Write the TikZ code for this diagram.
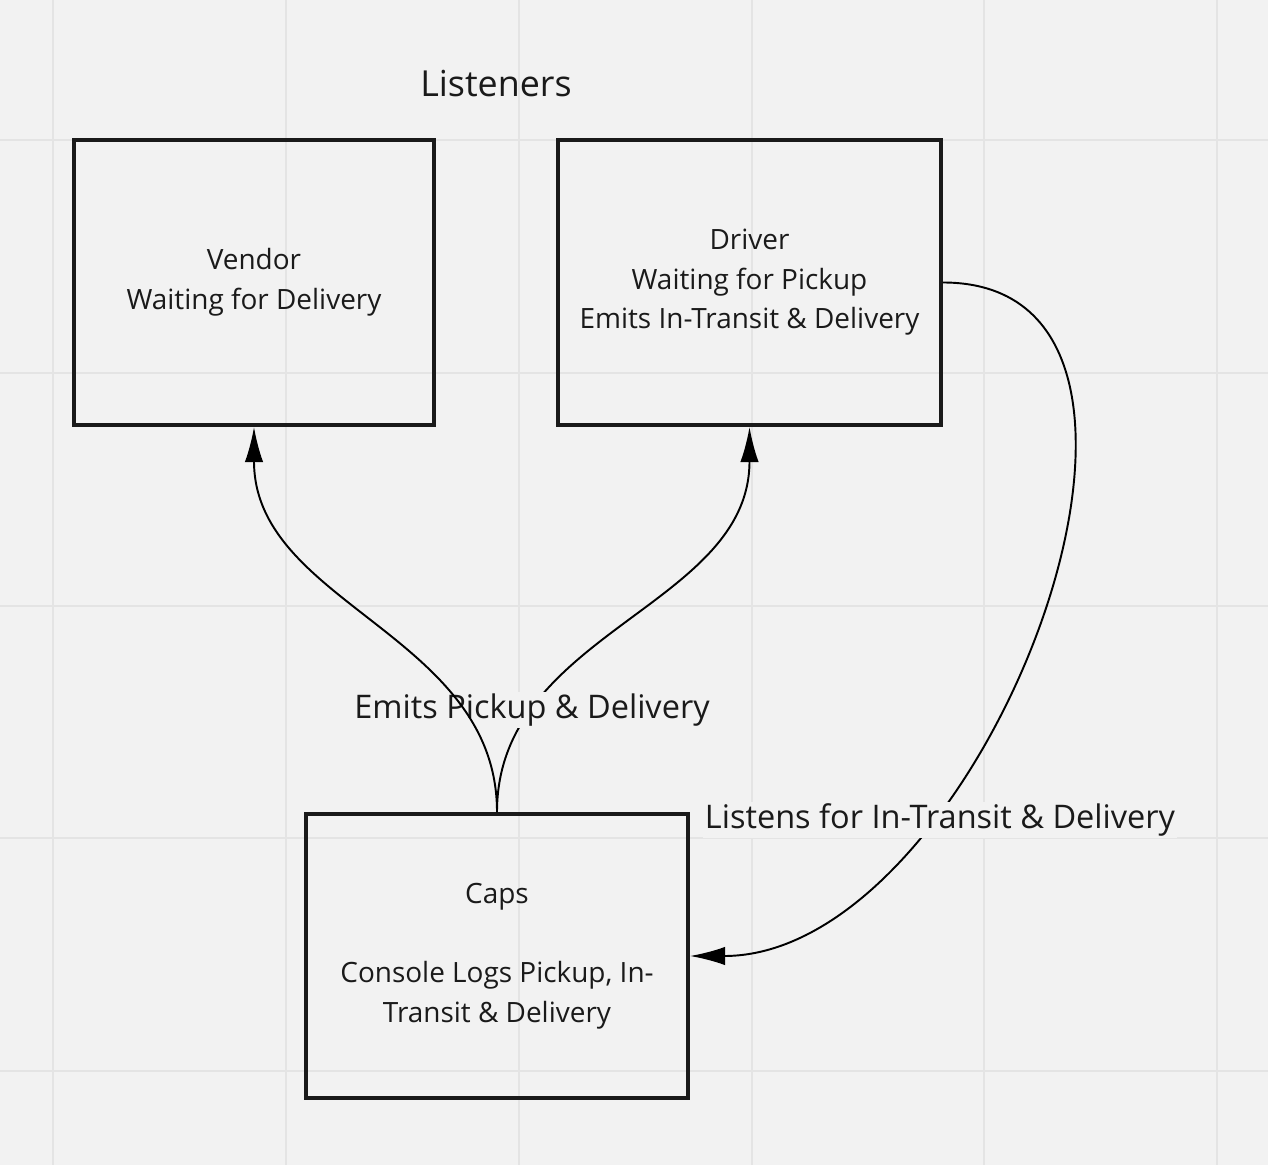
\documentclass[tikz,border=0pt]{standalone}
\usepackage{fontspec}
\setmainfont{Open Sans}
\usetikzlibrary{arrows.meta}
\definecolor{bg}{HTML}{F2F2F2}
\definecolor{gridgray}{HTML}{E4E4E4}
\definecolor{ink}{HTML}{1A1A1A}
\begin{document}
\begin{tikzpicture}[x=0.02cm, y=-0.02cm,
    box/.style={draw=ink, line width=2.3pt, align=center, text=ink, font=\fontsize{15.9}{22.5}\selectfont},
    conn/.style={line width=1.1pt, -{Latex[length=20pt,width=10.5pt]}},
    lbl/.style={text=ink, inner sep=1pt, font=\fontsize{18.5}{22}\selectfont}]
        \fill[bg] (0,0) rectangle (1268,1165);
        \useasboundingbox (0,0) rectangle (1268,1165);
        % grid
        \foreach \gx in {53,286,519,752,984,1217}
            \draw[gridgray, line width=1pt] (\gx,0) -- (\gx,1165);
        \foreach \gy in {140,373,606,838,1071}
            \draw[gridgray, line width=1pt] (0,\gy) -- (1268,\gy);
        % boxes
        \node[box, minimum width=7.2cm, minimum height=5.7cm] (vendor) at (254,282.5) {Vendor\\Waiting for Delivery};
        \node[box, minimum width=7.66cm, minimum height=5.7cm] (driver) at (749.5,282.5) {Driver\\Waiting for Pickup\\Emits In-Transit \& Delivery};
        \node[box, minimum width=7.64cm, minimum height=5.68cm] (caps) at (497,956) {Caps\\[22.5pt]Console Logs Pickup, In-\\Transit \& Delivery};
        \node[lbl, font=\fontsize{20.4}{24}\selectfont] (listeners) at (496,84) {Listeners};
        % connectors
        \draw[conn] (caps.north) to[out=90, in=-90] (driver.south);
        \node[lbl, fill=bg] (emits) at (532,710) {Emits Pickup \& Delivery};
        \draw[conn] (caps.north) to[out=90, in=-90] (vendor.south);
        \draw[conn] (driver.east) to[out=0, in=0, looseness=1.05] (caps.east);
        \node[lbl, fill=bg] (listens) at (940,820) {Listens for In-Transit \& Delivery};
\end{tikzpicture}
\end{document}
